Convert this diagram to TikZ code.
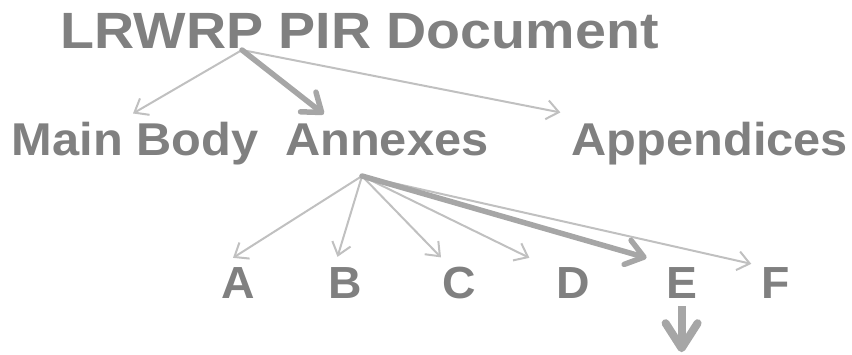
\documentclass[tikz,border=0pt]{standalone}
\usepackage{fontspec}
\setmainfont{Liberation Sans}
\usetikzlibrary{arrows.meta}
\definecolor{txtgray}{HTML}{808080}
\definecolor{thingray}{HTML}{C0C0C0}
\definecolor{thickgray}{HTML}{A6A6A6}
\newcommand{\wideby}[2]{\scalebox{#1}[1]{#2}}
\tikzset{
  titletext/.style={inner sep=0pt, anchor=base, text=txtgray, font=\fontsize{51}{51}\selectfont\bfseries},
  leveltwo/.style={inner sep=0pt, anchor=base, text=txtgray, font=\fontsize{46}{46}\selectfont\bfseries},
  letterbox/.style={inner sep=0pt, anchor=base, text=txtgray, font=\fontsize{45}{45}\selectfont\bfseries},
  thinarrow/.style={draw=thingray, line width=2pt, -{Straight Barb[length=12pt, width=19pt]}},
  thickarrow/.style={draw=thickgray, line width=5.5pt, line cap=round, -{Straight Barb[length=17pt, width=25pt, line cap=round, line join=round]}},
  downarrow/.style={draw=thickgray, line width=8pt, -{Straight Barb[length=25pt, width=32pt, line cap=round, line join=round]}}
}
\begin{document}
\begin{tikzpicture}[x=1pt, y=-1pt]
\useasboundingbox (0,0) rectangle (852,354);
\node[titletext] (title) at (359.5,48.5) {\wideby{1.09}{LRWRP PIR Document}};
\node[leveltwo] (mainbody) at (135,155) {\wideby{1.06}{Main Body}};
\node[leveltwo] (annexes) at (386.8,155) {\wideby{1.06}{Annexes}};
\node[leveltwo] (appendices) at (709.8,155) {\wideby{1.06}{Appendices}};
\node[letterbox] (A) at (238,298) {\wideby{1.03}{A}};
\node[letterbox] (B) at (345.5,298) {\wideby{1.03}{B}};
\node[letterbox] (C) at (459,298) {\wideby{1.03}{C}};
\node[letterbox] (D) at (573.4,298) {\wideby{1.03}{D}};
\node[letterbox] (E) at (681.6,298) {\wideby{1.03}{E}};
\node[letterbox] (F) at (775.3,298) {\wideby{1.03}{F}};
\coordinate (thub) at (242,50);
\coordinate (ahub) at (362,176);
% level 1 connectors
\draw[thinarrow] (thub) -- ([shift={(-2pt,8pt)}]mainbody.north);
\draw[thinarrow] (thub) -- ([shift={(-11pt,9pt)}]appendices.north west);
\draw[thickarrow] (thub) -- ([shift={(-63pt,9pt)}]annexes.north);
% level 2 connectors
\draw[thinarrow] (ahub) -- ([shift={(-5pt,9pt)}]A.north);
\draw[thinarrow] (ahub) -- ([shift={(-8pt,10pt)}]B.north);
\draw[thinarrow] (ahub) -- ([shift={(-18pt,9pt)}]C.north);
\draw[thinarrow] (ahub) -- ([shift={(-44pt,9pt)}]D.north);
\draw[thinarrow] (ahub) -- ([shift={(-24pt,3pt)}]F.north);
\draw[thickarrow] (ahub) -- ([shift={(-35pt,9pt)}]E.north);
\draw[downarrow] ([yshift=-8pt]E.south) -- ([yshift=-54pt]E.south);
\end{tikzpicture}
\end{document}
